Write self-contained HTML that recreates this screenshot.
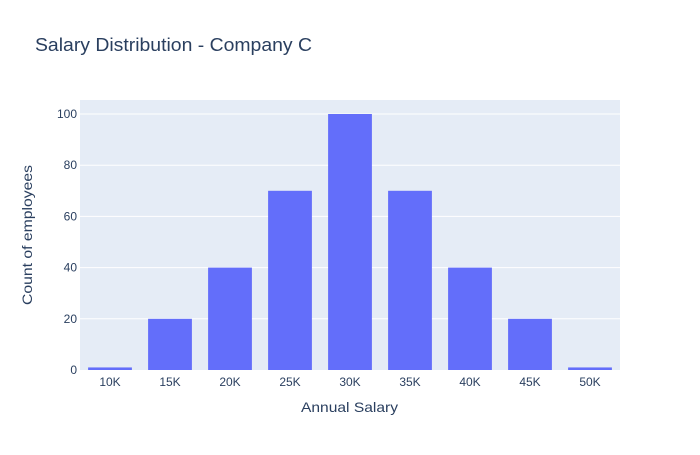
<!DOCTYPE html>
<html><head><meta charset="utf-8"><style>
body{margin:0;background:#fff;}
svg{font-family:"Liberation Sans",sans-serif;}
</style></head><body>
<svg id="chart" width="700" height="450">
<rect x="0" y="0" width="700" height="450" fill="#fff"/>
<text x="35" y="51" font-size="18" fill="#2a3f5f" textLength="277" lengthAdjust="spacingAndGlyphs">Salary Distribution - Company C</text>
<rect x="80" y="100" width="540" height="270" fill="#e5ecf6"/>
<g id="grid"></g><g id="bars"></g><g id="xticks"></g><g id="yticks"></g>
<text x="301" y="412" font-size="14" fill="#2a3f5f" textLength="97" lengthAdjust="spacingAndGlyphs">Annual Salary</text>
<text x="32" y="235" font-size="14" fill="#2a3f5f" text-anchor="middle" textLength="140" lengthAdjust="spacingAndGlyphs" transform="rotate(-90 32 235)">Count of employees</text>
</svg>
<script>
const categories=["10K","15K","20K","25K","30K","35K","40K","45K","50K"];
const counts=[1,20,40,70,100,70,40,20,1];
const yTicks=[0,20,40,60,80,100];
const ns="http://www.w3.org/2000/svg";
const x0=80,x1=620,y0=370,y1=100,yMax=105.47;
const band=(x1-x0)/categories.length;
function xc(i){return x0+band*(i+0.5);}
function ys(v){return y0-(v/yMax)*(y0-y1);}
function mk(t,a,p){const e=document.createElementNS(ns,t);for(const k in a)e.setAttribute(k,a[k]);document.getElementById(p).appendChild(e);return e;}
yTicks.forEach(v=>{
  if(v>0){const l=mk("line",{x1:x0,x2:x1,y1:ys(v),y2:ys(v),stroke:"#fff","stroke-width":1},"grid");
  
  }
  const t=mk("text",{x:x0-3,y:ys(v)+4,"font-size":12,fill:"#2a3f5f","text-anchor":"end"},"yticks");
  t.textContent=v;
  
  
});
const bw=band*0.73;
categories.forEach((c,i)=>{
  const r=mk("rect",{x:xc(i)-bw/2,y:ys(counts[i]),width:bw,height:y0-ys(counts[i]),fill:"#636efa"},"bars");
  
  
  const t=mk("text",{x:xc(i),y:y0+16,"font-size":12,fill:"#2a3f5f","text-anchor":"middle"},"xticks");
  t.textContent=c;
  
  
});
</script>
</body></html>
